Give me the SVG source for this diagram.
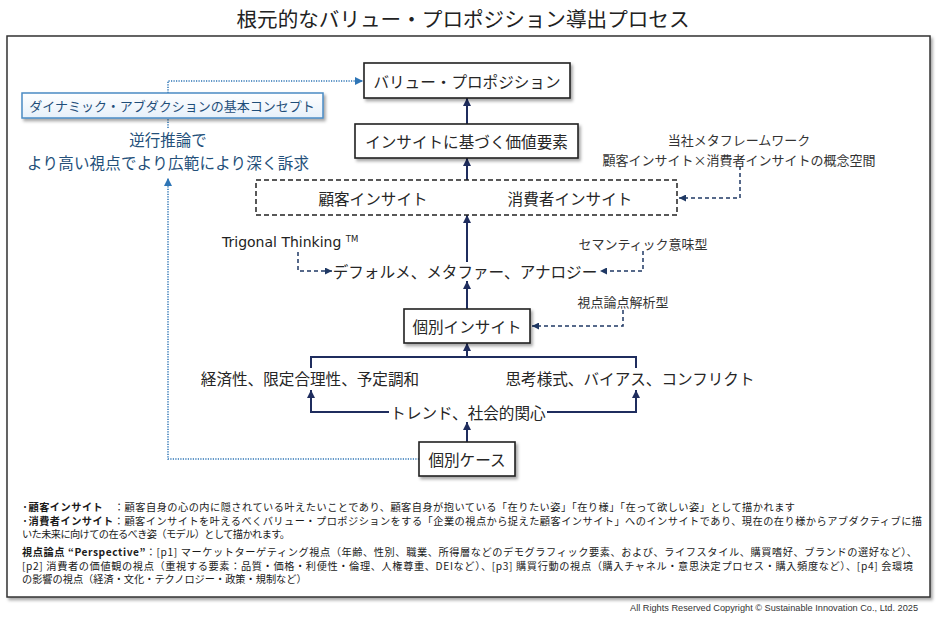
<svg xmlns="http://www.w3.org/2000/svg" width="940" height="620" viewBox="0 0 940 620">
<defs>
<style>
.jp{font-family:"Noto Sans CJK JP","Noto Sans",sans-serif;}
.nt{font-family:"Noto Sans CJK JP","Noto Sans",sans-serif;font-size:15.6px;fill:#262626;text-anchor:middle;dominant-baseline:central;}
.sm{font-family:"Noto Sans CJK JP","Noto Sans",sans-serif;font-size:13px;fill:#333;text-anchor:middle;dominant-baseline:central;}
.box{fill:#fff;stroke:#222;stroke-width:1.6;}
.sol{fill:none;stroke:#1F2D5E;stroke-width:2;}
.dsh{fill:none;stroke:#1F3864;stroke-width:1.5;stroke-dasharray:4 3;}
.dot{fill:none;stroke:#2E75B6;stroke-width:1.5;stroke-dasharray:1.2 1.3;}
.foot{font-family:"Noto Sans CJK JP","Noto Sans",sans-serif;font-size:10.2px;fill:#1a1a1a;}
.b{font-weight:bold;}
</style>
<filter id="sh" x="-10%" y="-20%" width="130%" height="150%">
<feDropShadow dx="2" dy="2.5" stdDeviation="1.5" flood-color="#000" flood-opacity="0.35"/>
</filter>
<linearGradient id="cg" x1="0" y1="0" x2="0" y2="1">
<stop offset="0" stop-color="#ffffff"/>
<stop offset="1" stop-color="#E6F0FA"/>
</linearGradient>
<marker id="ah" viewBox="0 0 8 8" refX="8" refY="4" markerWidth="8" markerHeight="8" markerUnits="userSpaceOnUse" orient="auto">
<path d="M0,0 L8,4 L0,8 z" fill="#1F2D5E"/>
</marker>
<marker id="ahd" viewBox="0 0 8 8" refX="8" refY="4" markerWidth="7" markerHeight="7" markerUnits="userSpaceOnUse" orient="auto">
<path d="M0,0 L8,4 L0,8 z" fill="#1F3864"/>
</marker>
<marker id="ahb" viewBox="0 0 8 8" refX="8" refY="4" markerWidth="8" markerHeight="8" markerUnits="userSpaceOnUse" orient="auto">
<path d="M0,0 L8,4 L0,8 z" fill="#2E75B6"/>
</marker>
</defs>
<rect width="940" height="620" fill="#fff"/>
<text x="463" y="18" class="jp" font-size="20.6" fill="#222" text-anchor="middle" dominant-baseline="central">根元的なバリュー・プロポジション導出プロセス</text>
<rect id="frame" x="7" y="36" width="923" height="561" fill="#fff" stroke="#333" stroke-width="1.5" filter="url(#sh)"/>

<g id="connectors">
<path class="dot" d="M168,128 V81 H363" marker-end="url(#ahb)"/>
<path class="dot" d="M419,459 H168 V178" marker-end="url(#ahb)"/>
<line class="sol" x1="467" y1="124" x2="467" y2="98" marker-end="url(#ah)"/>
<line class="sol" x1="467" y1="180" x2="467" y2="158" marker-end="url(#ah)"/>
<line class="sol" x1="467" y1="262" x2="467" y2="215" marker-end="url(#ah)"/>
<line class="sol" x1="467" y1="309" x2="467" y2="281" marker-end="url(#ah)"/>
<line class="sol" x1="467" y1="357" x2="467" y2="343" marker-end="url(#ah)"/>
<path class="sol" d="M311,368 V357 H636 V368"/>
<path class="sol" d="M389,412 H311 V390" marker-end="url(#ah)"/>
<path class="sol" d="M547,412 H636 V390" marker-end="url(#ah)"/>
<line class="sol" x1="467" y1="442" x2="467" y2="422" marker-end="url(#ah)"/>
<path class="dsh" d="M740,166 V198 H679" marker-end="url(#ahd)"/>
<path class="dsh" d="M298,252 V271 H332" marker-end="url(#ahd)"/>
<path class="dsh" d="M643,251 V271 H600" marker-end="url(#ahd)"/>
<path class="dsh" d="M623,310 V326 H532" marker-end="url(#ahd)"/>
</g>

<g id="concept">
<rect x="22" y="93" width="301" height="25" fill="url(#cg)" stroke="#4A8BC4" stroke-width="1.5" filter="url(#sh)"/>
<text x="172" y="105.5" class="jp" font-size="13" fill="#1F4E79" text-anchor="middle" dominant-baseline="central">ダイナミック・アブダクションの基本コンセプト</text>
</g>
<g id="concept-note">
<text class="jp" font-size="15.5" fill="#24507A" text-anchor="middle" dominant-baseline="central"><tspan x="168" y="139">逆行推論で</tspan><tspan x="168" y="162" textLength="282" lengthAdjust="spacing">より高い視点でより広範により深く訴求</tspan></text>
</g>

<g id="value-proposition">
<rect class="box" x="364" y="63" width="206" height="35" filter="url(#sh)"/>
<text class="nt" x="467" y="80.5">バリュー・プロポジション</text>
</g>
<g id="value-elements">
<rect class="box" x="355" y="124" width="223" height="34" filter="url(#sh)"/>
<text class="nt" x="466.5" y="141">インサイトに基づく価値要素</text>
</g>
<g id="insights">
<rect x="256" y="180" width="421" height="35" fill="#fff" stroke="#222" stroke-width="1.5" stroke-dasharray="5 3"/>
<text class="nt" x="373" y="197.5">顧客インサイト</text>
<text class="nt" x="570" y="197.5">消費者インサイト</text>
</g>
<g id="metaframework">
<text class="sm"><tspan x="739" y="139">当社メタフレームワーク</tspan><tspan x="739" y="158.5">顧客インサイト×消費者インサイトの概念空間</tspan></text>
</g>
<g id="trigonal">
<text x="222" y="247" font-family="DejaVu Sans,Verdana,sans-serif" font-size="14" fill="#222">Trigonal Thinking <tspan font-size="8.5" dy="-5">TM</tspan></text>
</g>
<g id="deformation">
<text class="nt" x="465" y="271">デフォルメ、メタファー、アナロジー</text>
</g>
<g id="semantic">
<text class="sm" x="643" y="243">セマンティック意味型</text>
</g>
<g id="perspective-analysis">
<text class="sm" x="623" y="301">視点論点解析型</text>
</g>
<g id="individual-insight">
<rect class="box" x="404" y="309" width="126" height="34" filter="url(#sh)"/>
<text class="nt" x="467" y="326">個別インサイト</text>
</g>
<g id="economy">
<text class="nt" x="310" y="378" font-size="16.5">経済性、限定合理性、予定調和</text>
</g>
<g id="thinking">
<text class="nt" x="630" y="378" font-size="16.5">思考様式、バイアス、コンフリクト</text>
</g>
<g id="trend">
<text class="nt" x="468" y="412">トレンド、社会的関心</text>
</g>
<g id="individual-case">
<rect class="box" x="419" y="442" width="96" height="34" filter="url(#sh)"/>
<text class="nt" x="467" y="459">個別ケース</text>
</g>

<g id="notes">
<text class="foot" x="22" y="511" textLength="773" lengthAdjust="spacing"><tspan class="b">·顧客インサイト</tspan>　：顧客自身の心の内に隠されている叶えたいことであり、顧客自身が抱いている「在りたい姿」「在り様」「在って欲しい姿」として描かれます</text>
<text class="foot" x="22" y="524.5" textLength="900" lengthAdjust="spacing"><tspan class="b">·消費者インサイト</tspan>：顧客インサイトを叶えるべくバリュー・プロポジションをする「企業の視点から捉えた顧客インサイト」へのインサイトであり、現在の在り様からアブダクティブに描</text>
<text class="foot" x="22" y="538" textLength="268" lengthAdjust="spacing">いた未来に向けての在るべき姿（モデル）として描かれます。</text>
<text class="foot" x="22" y="556" textLength="895" lengthAdjust="spacing"><tspan class="b">視点論点 “Perspective”</tspan>：[p1] マーケットターゲティング視点（年齢、性別、職業、所得層などのデモグラフィック要素、および、ライフスタイル、購買嗜好、ブランドの選好など）、</text>
<text class="foot" x="22" y="569.5" textLength="891" lengthAdjust="spacing">[p2] 消費者の価値観の視点（重視する要素：品質・価格・利便性・倫理、人権尊重、DEIなど）、[p3] 購買行動の視点（購入チャネル・意思決定プロセス・購入頻度など）、[p4] 会環境</text>
<text class="foot" x="22" y="583">の影響の視点（経済・文化・テクノロジー・政策・規制など）</text>
</g>
<text x="918" y="611" font-family="Liberation Sans,Arial,sans-serif" font-size="9.5" fill="#333" text-anchor="end" textLength="288" lengthAdjust="spacingAndGlyphs">All Rights Reserved Copyright © Sustainable Innovation  Co., Ltd. 2025</text>
</svg>
